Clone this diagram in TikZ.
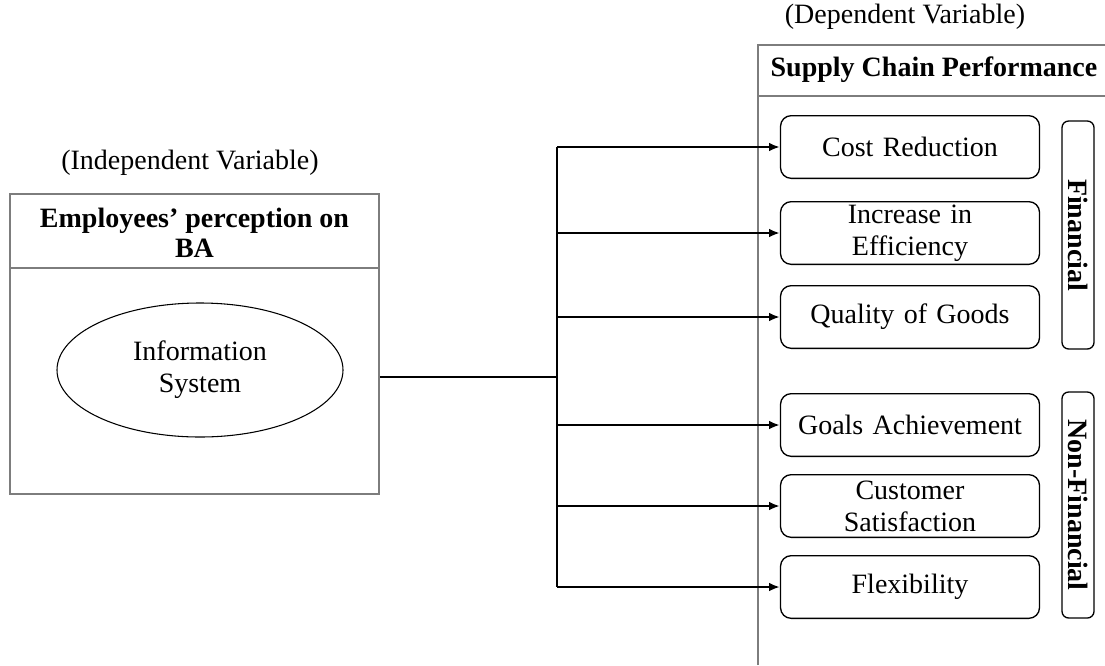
\documentclass[tikz,border=0pt]{standalone}
\usepackage{fontspec}
\setmainfont{Liberation Serif}
\usetikzlibrary{shapes.geometric,arrows.meta}
\definecolor{framegray}{RGB}{125,125,125}
\begin{document}
\begin{tikzpicture}[x=0.75pt,y=-0.75pt,
  every node/.style={font=\fontsize{21}{24}\selectfont, inner sep=0pt},
  frame/.style={draw=framegray, line width=1.3pt},
  item/.style={draw=black, line width=1pt, rounded corners=8pt,
    minimum width=194.25pt, minimum height=47pt, align=center, text width=185pt},
  side/.style={draw=black, line width=1pt, rounded corners=5pt, rotate=-90,
    minimum height=24pt, font=\fontsize{21}{24}\selectfont\bfseries},
  conn/.style={draw=black, line width=2pt},
  arr/.style={conn, -{Latex[length=8pt,width=6.5pt]}}]
\useasboundingbox (0,0) rectangle (1105,665);

% headings
\node (indep) at (190,163) {(Independent Variable)};
\node (dep) at (905,17) {(Dependent Variable)};

% left box
\node[frame, minimum width=276.75pt, minimum height=225pt] (leftbox) at (194.5,344) {};
\coordinate (hdiv) at (0,268);
\draw[frame] (leftbox.west |- hdiv) -- (leftbox.east |- hdiv);
\node[font=\fontsize{21}{22.5}\selectfont\bfseries, align=center] (lefttitle) at (194.5,233) {Employees’ perception on\\BA};
\node[ellipse, draw=black, line width=0.8pt, minimum width=214.5pt, minimum height=100.5pt, align=center] (is) at (200,370) {Information\\System};

% right panel
\coordinate (pTL) at (758,45);
\coordinate (pBL) at (758,665);
\coordinate (pTR) at (1105,45);
\coordinate (pDL) at (758,96);
\coordinate (pDR) at (1105,96);
\draw[frame] (pBL) -- (pTL) -- (pTR);
\draw[frame] (pDL) -- (pDR);
\node[font=\fontsize{21}{24}\selectfont\bfseries] (scp) at (934,70) {Supply Chain Performance};

% items
\node[item] (cost) at (910,147) {Cost Reduction};
\node[item] (incr) at (910,233) {Increase in\\Efficiency};
\node[item] (qual) at (910,317) {Quality of Goods};
\node[item] (goals) at (910,425) {Goals Achievement};
\node[item] (cust) at (910,506) {Customer\\Satisfaction};
\node[item] (flex) at (910,587) {Flexibility};

% side labels
\node[side, minimum width=171pt] (fin) at (1078,235) {Financial};
\node[side, minimum width=169.5pt] (nonfin) at (1078,505) {Non-Financial};

% connectors
\coordinate (bus) at (557,377);
\draw[conn] (leftbox.east |- bus) -- (bus);
\draw[conn] (bus |- cost.west) -- (bus |- flex.west);
\foreach \n in {cost,incr,qual,goals,cust,flex}
  \draw[arr] (bus |- \n.west) -- (\n.west);
\end{tikzpicture}
\end{document}
